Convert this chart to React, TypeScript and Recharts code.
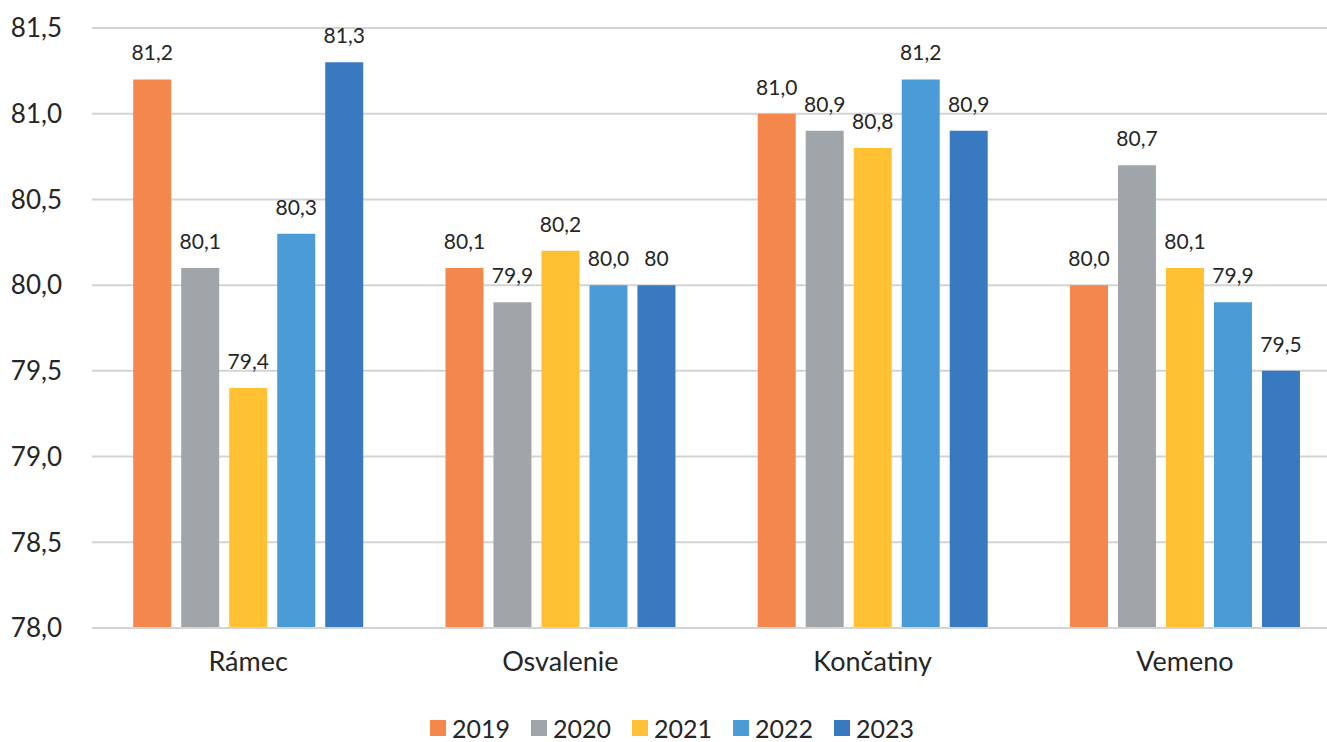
import React from 'react';
import { BarChart, Bar, XAxis, YAxis, CartesianGrid, Legend, LabelList } from 'recharts';

const categories = ['Rámec', 'Osvalenie', 'Končatiny', 'Vemeno'];
const years = ['2019', '2020', '2021', '2022', '2023'];
const s2019 = [81.2, 80.1, 81.0, 80.0];
const s2020 = [80.1, 79.9, 80.9, 80.7];
const s2021 = [79.4, 80.2, 80.8, 80.1];
const s2022 = [80.3, 80.0, 81.2, 79.9];
const s2023 = [81.3, 80.0, 80.9, 79.5];
const l2019 = ['81,2', '80,1', '81,0', '80,0'];
const l2020 = ['80,1', '79,9', '80,9', '80,7'];
const l2021 = ['79,4', '80,2', '80,8', '80,1'];
const l2022 = ['80,3', '80,0', '81,2', '79,9'];
const l2023 = ['81,3', '80', '80,9', '79,5'];
const yTicks = [78.0, 78.5, 79.0, 79.5, 80.0, 80.5, 81.0, 81.5];

const colors = ['#F4874B', '#A0A5AA', '#FFC033', '#4B9BD6', '#3879BF'];
const seriesVals = [s2019, s2020, s2021, s2022, s2023];
const seriesLabels = [l2019, l2020, l2021, l2022, l2023];

const data = categories.map((c, i) => {
  const row: any = { name: c };
  years.forEach((y, k) => {
    row['y' + y] = seriesVals[k][i];
    row['l' + y] = seriesLabels[k][i];
  });
  return row;
});

const FONT = 'Lato, "Noto Sans", sans-serif';
const TXT = '#262626';

const LegendContent = () => (
  <div style={{ display: 'flex', justifyContent: 'flex-start', fontFamily: FONT, fontSize: 25, color: TXT, lineHeight: '26px' }}>
    {years.map((y, k) => (
      <div key={y} style={{ display: 'flex', alignItems: 'center', width: 101 }}>
        <span style={{ display: 'inline-block', width: 16, height: 16, background: colors[k], marginRight: 6 }} />
        <span>{y}</span>
      </div>
    ))}
  </div>
);

export default function App() {
  return (
    <div style={{ position: 'absolute', left: 0, top: 0, width: 1327, height: 742, overflow: 'hidden', background: '#fff' }}>
      <BarChart
        width={1341}
        height={742}
        data={data}
        margin={{ top: 28, right: 0, left: 0, bottom: 38 }}
        barCategoryGap="13.2%"
        barGap={10}
      >
        <CartesianGrid vertical={false} stroke="#D4D4D4" strokeWidth={2} />
        <XAxis
          dataKey="name"
          axisLine={{ stroke: '#D4D4D4', strokeWidth: 2 }}
          tickLine={false}
          tick={{ fill: TXT, fontSize: 27, fontFamily: FONT }}
          tickMargin={18}
          height={50}
        />
        <YAxis
          domain={[78, 81.5]}
          ticks={yTicks}
          interval={0}
          axisLine={false}
          tickLine={false}
          width={92}
          tickMargin={24}
          tick={{ fill: TXT, fontSize: 26, fontFamily: FONT }}
          tickFormatter={(v: number) => v.toFixed(1).replace('.', ',')}
          allowDataOverflow
        />
        <Legend
          verticalAlign="bottom"
          content={<LegendContent />}
          wrapperStyle={{ left: 430, width: 600, bottom: 1 }}
        />
        {years.map((y, k) => (
          <Bar key={y} dataKey={'y' + y} name={y} fill={colors[k]} isAnimationActive={false}>
            <LabelList
              dataKey={'l' + y}
              position="top"
              offset={19}
              style={{ fill: TXT, fontSize: 21, fontFamily: FONT }}
            />
          </Bar>
        ))}
      </BarChart>
    </div>
  );
}
